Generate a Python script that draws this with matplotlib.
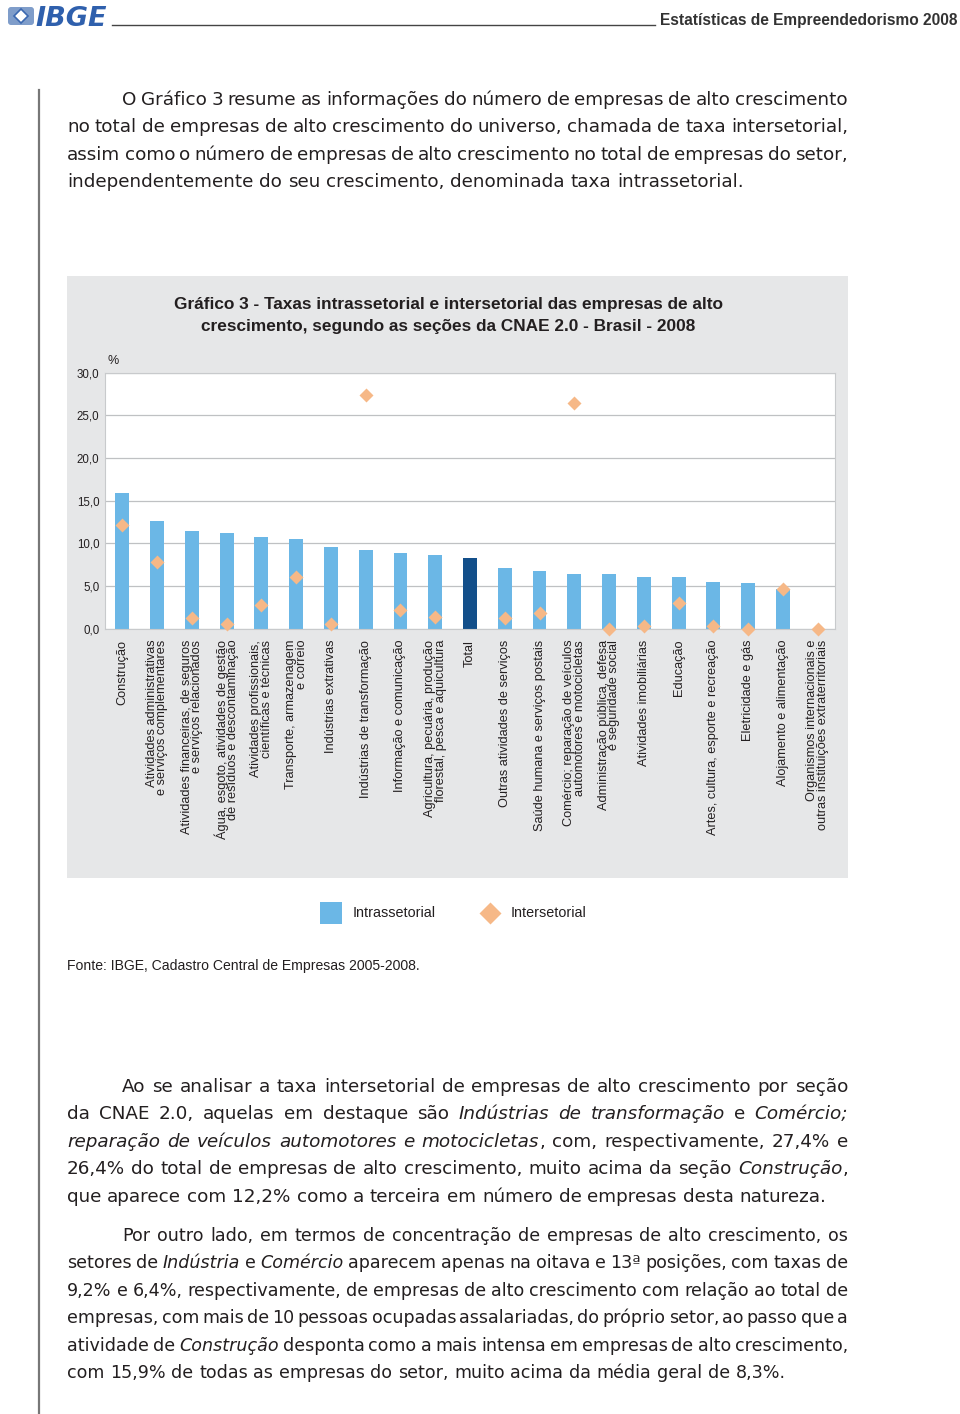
import matplotlib
matplotlib.use("Agg")
import matplotlib.pyplot as plt
from matplotlib.patches import Rectangle, FancyBboxPatch
import numpy as np

plt.rcParams['font.family'] = ['Liberation Sans', 'DejaVu Sans']

# dados do gráfico (%)
setores = [
    "Construção",
    "Atividades administrativas\ne serviços complementares",
    "Atividades financeiras, de seguros\ne serviços relacionados",
    "Água, esgoto, atividades de gestão\nde resíduos e descontaminação",
    "Atividades profissionais,\ncientíficas e técnicas",
    "Transporte, armazenagem\ne correio",
    "Indústrias extrativas",
    "Indústrias de transformação",
    "Informação e comunicação",
    "Agricultura, pecuária, produção\nflorestal, pesca e aquicultura",
    "Total",
    "Outras atividades de serviços",
    "Saúde humana e serviços postais",
    "Comércio; reparação de veículos\nautomotores e motocicletas",
    "Administração pública, defesa\ne seguridade social",
    "Atividades imobiliárias",
    "Educação",
    "Artes, cultura, esporte e recreação",
    "Eletricidade e gás",
    "Alojamento e alimentação",
    "Organismos internacionais e\noutras instituições extraterritoriais",
]
intrassetorial = [15.9, 12.6, 11.5, 11.2, 10.7, 10.5, 9.6, 9.2, 8.9, 8.6, 8.3,
                  7.1, 6.8, 6.4, 6.4, 6.1, 6.1, 5.5, 5.3, 4.6, 0.0]
intersetorial = [12.2, 7.8, 1.2, 0.5, 2.8, 6.1, 0.6, 27.4, 2.2, 1.4, np.nan,
                 1.3, 1.8, 26.4, 0.0, 0.3, 3.0, 0.3, 0.0, 4.6, 0.0]
yticks = [0, 5, 10, 15, 20, 25, 30]

# texto da página (*...* = itálico)
par1 = [
    "O Gráfico 3 resume as informações do número de empresas de alto crescimento",
    "no total de empresas de alto crescimento do universo, chamada de taxa intersetorial,",
    "assim como o número de empresas de alto crescimento no total de empresas do setor,",
    "independentemente do seu crescimento, denominada taxa intrassetorial.",
]
par2 = [
    "Ao se analisar a taxa intersetorial de empresas de alto crescimento por seção",
    "da CNAE 2.0, aquelas em destaque são *Indústrias de transformação* e *Comércio;*",
    "*reparação de veículos automotores e motocicletas*, com, respectivamente, 27,4% e",
    "26,4% do total de empresas de alto crescimento, muito acima da seção *Construção*,",
    "que aparece com 12,2% como a terceira em número de empresas desta natureza.",
]
par3 = [
    "Por outro lado, em termos de concentração de empresas de alto crescimento, os",
    "setores de *Indústria* e *Comércio* aparecem apenas na oitava e 13ª posições, com taxas de",
    "9,2% e 6,4%, respectivamente, de empresas de alto crescimento com relação ao total de",
    "empresas, com mais de 10 pessoas ocupadas assalariadas, do próprio setor, ao passo que a",
    "atividade de *Construção* desponta como a mais intensa em empresas de alto crescimento,",
    "com 15,9% de todas as empresas do setor, muito acima da média geral de 8,3%.",
]

azul = '#6bb7e6'
azul_total = '#134f8a'
laranja = '#f6b887'
cinza_box = '#e6e7e8'
cor_texto = '#231f20'
fonte_corpo = ['DejaVu Sans']

fig = plt.figure(figsize=(9.6, 14.14), dpi=100)
fig.patch.set_facecolor('white')

# eixo da página em pixels
page = fig.add_axes([0, 0, 1, 1], zorder=0)
page.set_xlim(0, 960)
page.set_ylim(1414, 0)
page.axis('off')

# cabeçalho
page.add_patch(FancyBboxPatch((8, 7), 26, 18, boxstyle='round,pad=0,rounding_size=3',
                              fc='#7f9dca', ec='none'))
page.plot([21], [16], marker='D', ms=7.5, color='white', mec='#3b68b0', mew=1.2)
page.text(35, 26, 'IBGE', fontsize=19.5, fontweight='bold', fontstyle='italic',
          color='#2f60ad', va='baseline', family=['DejaVu Sans'])
page.plot([112, 655], [25, 25], color='#444444', lw=1)
page.text(958, 25, 'Estatísticas de Empreendedorismo 2008', fontsize=11.2,
          fontweight='bold', color='#333333', ha='right', va='baseline')

# linha vertical à esquerda
page.plot([38.5, 38.5], [90, 1414], color='#777777', lw=1.6)

# caixa do gráfico
page.add_patch(Rectangle((67, 276), 781, 602, fc=cinza_box, ec='none'))
page.text(448, 304, 'Gráfico 3 - Taxas intrassetorial e intersetorial das empresas de alto',
          fontsize=12.4, fontweight='bold', color=cor_texto, ha='center', va='center')
page.text(448, 326, 'crescimento, segundo as seções da CNAE 2.0 - Brasil - 2008',
          fontsize=12.4, fontweight='bold', color=cor_texto, ha='center', va='center')
page.text(107, 361, '%', fontsize=9, color=cor_texto, ha='left', va='center')

# legenda
page.add_patch(Rectangle((320, 902), 22, 22, fc=azul, ec='none'))
page.text(353, 913, 'Intrassetorial', fontsize=10.4, color=cor_texto, va='center')
page.plot([490], [913], marker='D', ms=11, color=laranja, mec='none')
page.text(511, 913, 'Intersetorial', fontsize=10.4, color=cor_texto, va='center')

page.text(67, 966, 'Fonte: IBGE, Cadastro Central de Empresas 2005-2008.', fontsize=10.1,
          color=cor_texto, va='center')

# gráfico
ax = fig.add_axes([105 / 960, 1 - 628.7 / 1414, 730 / 960, 256 / 1414], zorder=2)
ax.set_facecolor('white')
x = np.arange(len(setores))
cores = [azul_total if s == 'Total' else azul for s in setores]
ax.bar(x, intrassetorial, width=0.4, color=cores, zorder=2)
ax.plot(x, intersetorial, linestyle='none', marker='D', ms=7.4, color=laranja,
        mec='none', zorder=3, clip_on=False)
ax.set_xlim(-0.5, len(setores) - 0.5)
ax.set_ylim(0, 30)
ax.set_yticks(yticks)
ax.set_yticklabels([f'{v:.1f}'.replace('.', ',') for v in yticks], fontsize=8.3,
                   color=cor_texto)
ax.yaxis.grid(True, color='#bfc1c3', lw=0.9, zorder=0)
ax.set_axisbelow(True)
ax.set_xticks(x)
ax.set_xticklabels(setores, rotation=90, fontsize=9.2, color=cor_texto,
                   va='top', ha='center', multialignment='right', linespacing=0.85)
ax.tick_params(axis='both', length=0)
ax.tick_params(axis='x', pad=8)
ax.tick_params(axis='y', pad=4)
for s in ax.spines.values():
    s.set_color('#c8cacc')
    s.set_linewidth(0.8)

# parágrafos justificados
renderer = fig.canvas.get_renderer()


def largura(s, italic=False, fs=10):
    t = page.text(0, 0, s, fontsize=fs, fontstyle='italic' if italic else 'normal',
                  family=fonte_corpo)
    w = t.get_window_extent(renderer).width
    t.remove()
    return w


# tamanho da fonte ajustado à largura da última linha do primeiro parágrafo (745 - 67 px)
FS = round(10 * 678 / largura(par1[-1]), 1)


def parse(linha):
    palavras, cur, buf, ital = [], [], '', False
    for ch in linha:
        if ch == '*':
            if buf:
                cur.append((buf, ital))
                buf = ''
            ital = not ital
        elif ch == ' ':
            if buf:
                cur.append((buf, ital))
                buf = ''
            if cur:
                palavras.append(cur)
                cur = []
        else:
            buf += ch
    if buf:
        cur.append((buf, ital))
    if cur:
        palavras.append(cur)
    return palavras


def paragrafo(linhas, y0, fs, dy=27.4, x0=67, x1=848, recuo=122):
    espaco = largura('n n', fs=fs) - largura('nn', fs=fs)
    for i, linha in enumerate(linhas):
        y = round(y0 + i * dy)
        xs = recuo if i == 0 else x0
        palavras = parse(linha)
        larg = [[largura(p, it, fs) for p, it in w] for w in palavras]
        total = sum(sum(l) for l in larg)
        if i == len(linhas) - 1 or len(palavras) < 2:
            gap = espaco
        else:
            gap = (x1 - xs - total) / (len(palavras) - 1)
        xc = xs
        for w, lw_ in zip(palavras, larg):
            for (p, it), l in zip(w, lw_):
                page.text(xc, y, p, fontsize=fs, fontstyle='italic' if it else 'normal',
                          family=fonte_corpo, color=cor_texto, va='baseline', ha='left')
                xc += l
            xc += gap


paragrafo(par1, 105, FS)
paragrafo(par2, 1092, FS)
# o terceiro parágrafo é composto mais apertado no original
paragrafo(par3, 1241, round(FS * 0.955, 1))

fig.savefig('out.png', dpi=100)
